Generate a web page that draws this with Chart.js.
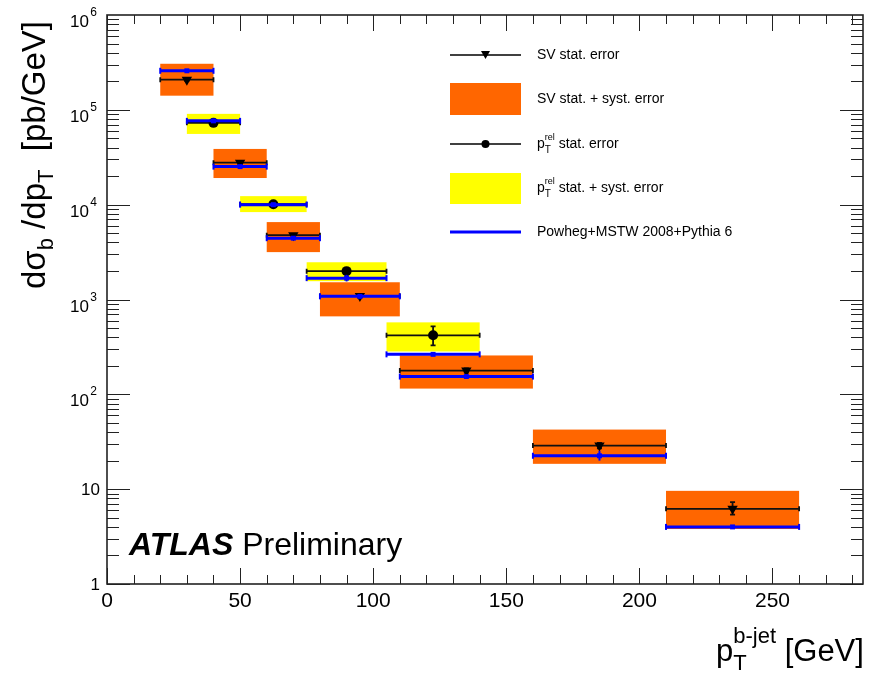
<!DOCTYPE html>
<html>
<head>
<meta charset="utf-8">
<script src="https://cdn.jsdelivr.net/npm/chart.js@4.4.1/dist/chart.umd.min.js"></script>
<style>
  html, body { margin: 0; padding: 0; background: #fff; }
  #wrap { width: 869px; height: 678px; position: relative; }
</style>
</head>
<body>
<div id="wrap"><canvas id="xsec"></canvas></div>
<script>
// SV measurement: bins, central values, stat error (black) and stat+syst band (orange)
const svBinLow = [20, 40, 60, 80, 110, 160, 210];
const svBinHigh = [40, 60, 80, 110, 160, 210, 260];
const svCenter = [30, 50, 70, 95, 135, 185, 235];
const svValue = [2.08e5, 2.77e4, 4.77e3, 1.09e3, 178, 28.8, 6.2];
const svStatLow = [2.02e5, 2.68e4, 4.62e3, 1.05e3, 169, 27.0, 5.4];
const svStatHigh = [2.14e5, 2.86e4, 4.93e3, 1.13e3, 188, 30.8, 7.3];
const svSystLow = [1.41e5, 1.91e4, 3.16e3, 664, 115, 18.5, 3.8];
const svSystHigh = [3.06e5, 3.87e4, 6.55e3, 1.52e3, 257, 42.5, 9.6];

// pT-rel measurement (yellow band)
const prelBinLow = [30, 50, 75, 105];
const prelBinHigh = [50, 75, 105, 140];
const prelCenter = [40, 62.5, 90, 122.5];
const prelValue = [7.29e4, 1.01e4, 1.99e3, 419];
const prelStatLow = [7.1e4, 9.8e3, 1.9e3, 328];
const prelStatHigh = [7.5e4, 1.04e4, 2.08e3, 521];
const prelSystLow = [5.57e4, 8.35e3, 1.56e3, 283];
const prelSystHigh = [9.07e4, 1.23e4, 2.47e3, 574];

// Powheg+MSTW 2008+Pythia 6 prediction, in both binnings
const powhegBinLow = [20, 30, 40, 50, 60, 75, 80, 105, 110, 160, 210];
const powhegBinHigh = [40, 50, 60, 75, 80, 105, 110, 140, 160, 210, 260];
const powhegCenter = [30, 40, 50, 62.5, 70, 90, 95, 122.5, 135, 185, 235];
const powhegValue = [2.58e5, 7.65e4, 2.52e4, 1.0e4, 4.43e3, 1.68e3, 1.08e3, 264, 154, 22.5, 4.0];
const powhegLow = [2.5e5, 7.4e4, 2.42e4, 9.6e3, 4.25e3, 1.55e3, 1.03e3, 256, 147, 20.0, 3.92];
const powhegHigh = [2.66e5, 7.9e4, 2.62e4, 1.04e4, 4.6e3, 1.82e3, 1.13e3, 272, 161, 25.4, 4.08];

// axis ticks
const xTickValues = [0, 50, 100, 150, 200, 250];
const xTickLabels = ['0', '50', '100', '150', '200', '250'];
const yTickValues = [1, 10, 100, 1e3, 1e4, 1e5, 1e6];
const yTickBase = ['1', '10', '10', '10', '10', '10', '10'];
const yTickExp = ['', '', '2', '3', '4', '5', '6'];

const ORANGE = '#ff6600';
const YELLOW = '#ffff00';
const BLUE = '#0000ff';
const FONT = '"Liberation Sans", Arial, sans-serif';

const powhegLine = [];
powhegBinLow.forEach((lo, i) => {
    powhegLine.push({ x: lo, y: powhegValue[i] });
    powhegLine.push({ x: powhegBinHigh[i], y: powhegValue[i] });
    powhegLine.push({ x: powhegBinHigh[i], y: null });
});

function drawTextRuns(ctx, x, y, runs) {
    // runs: [{t, size, dy}] drawn left to right; {stack:[run, run]} shares one x slot
    let cx = x;
    runs.forEach((run) => {
        const group = run.stack || [run];
        let w = 0;
        group.forEach((r) => {
            ctx.font = (r.weight || '') + ' ' + r.size + 'px ' + FONT;
            ctx.fillText(r.t, cx, y + (r.dy || 0));
            w = Math.max(w, ctx.measureText(r.t).width);
        });
        cx += w;
    });
    return cx;
}

function hBar(ctx, l, r, yy, cap) {
    ctx.beginPath();
    ctx.moveTo(l, yy); ctx.lineTo(r, yy);
    ctx.moveTo(l, yy - cap); ctx.lineTo(l, yy + cap);
    ctx.moveTo(r, yy - cap); ctx.lineTo(r, yy + cap);
    ctx.stroke();
}

function vBar(ctx, xx, t, b, cap) {
    ctx.beginPath();
    ctx.moveTo(xx, t); ctx.lineTo(xx, b);
    ctx.moveTo(xx - cap, t); ctx.lineTo(xx + cap, t);
    ctx.moveTo(xx - cap, b); ctx.lineTo(xx + cap, b);
    ctx.stroke();
}

const rootStyle = {
    id: 'rootStyle',
    beforeDatasetsDraw(chart) {
        const { ctx, scales: { x, y } } = chart;
        ctx.save();
        prelBinLow.forEach((lo, i) => {
            const l = x.getPixelForValue(lo), r = x.getPixelForValue(prelBinHigh[i]);
            const t = y.getPixelForValue(prelSystHigh[i]), b = y.getPixelForValue(prelSystLow[i]);
            ctx.fillStyle = YELLOW;
            ctx.fillRect(l, t, r - l, b - t);
        });
        svBinLow.forEach((lo, i) => {
            const l = x.getPixelForValue(lo), r = x.getPixelForValue(svBinHigh[i]);
            const t = y.getPixelForValue(svSystHigh[i]), b = y.getPixelForValue(svSystLow[i]);
            ctx.fillStyle = ORANGE;
            ctx.fillRect(l, t, r - l, b - t);
        });
        // black stat error bars
        ctx.strokeStyle = '#111';
        ctx.lineWidth = 1.8;
        svBinLow.forEach((lo, i) => {
            const yy = y.getPixelForValue(svValue[i]);
            hBar(ctx, x.getPixelForValue(lo), x.getPixelForValue(svBinHigh[i]), yy, 2.5);
            vBar(ctx, x.getPixelForValue(svCenter[i]), y.getPixelForValue(svStatHigh[i]), y.getPixelForValue(svStatLow[i]), 2.5);
        });
        prelBinLow.forEach((lo, i) => {
            const yy = y.getPixelForValue(prelValue[i]);
            hBar(ctx, x.getPixelForValue(lo), x.getPixelForValue(prelBinHigh[i]), yy, 2.5);
            vBar(ctx, x.getPixelForValue(prelCenter[i]), y.getPixelForValue(prelStatHigh[i]), y.getPixelForValue(prelStatLow[i]), 2.5);
        });
        ctx.restore();
    },
    afterDatasetsDraw(chart) {
        const { ctx, chartArea: a, scales: { x, y } } = chart;
        ctx.save();
        // powheg end caps and MC error bars
        ctx.strokeStyle = BLUE;
        ctx.lineWidth = 2;
        powhegBinLow.forEach((lo, i) => {
            const yy = y.getPixelForValue(powhegValue[i]);
            [lo, powhegBinHigh[i]].forEach((xv) => {
                const px = x.getPixelForValue(xv);
                ctx.beginPath(); ctx.moveTo(px, yy - 3); ctx.lineTo(px, yy + 3); ctx.stroke();
            });
            vBar(ctx, x.getPixelForValue(powhegCenter[i]), y.getPixelForValue(powhegHigh[i]), y.getPixelForValue(powhegLow[i]), 0);
        });

        // frame with ROOT style inward ticks on all four sides
        ctx.strokeStyle = '#222';
        ctx.lineWidth = 1;
        ctx.beginPath();
        for (let v = 0; v <= x.max; v += 10) {
            const px = Math.round(x.getPixelForValue(v)) + 0.5;
            const len = v % 50 === 0 ? 16 : 9;
            ctx.moveTo(px, a.bottom); ctx.lineTo(px, a.bottom - len);
            ctx.moveTo(px, a.top); ctx.lineTo(px, a.top + len);
        }
        for (let d = 1; d < 1e6; d *= 10) {
            for (let m = 1; m <= 9; m++) {
                const py = Math.round(y.getPixelForValue(d * m)) + 0.5;
                const len = m === 1 ? 23 : 12;
                ctx.moveTo(a.left, py); ctx.lineTo(a.left + len, py);
                ctx.moveTo(a.right, py); ctx.lineTo(a.right - len, py);
            }
        }
        ctx.stroke();
        ctx.lineWidth = 1.6;
        ctx.strokeRect(a.left, a.top, a.right - a.left, a.bottom - a.top);

        // tick labels
        ctx.fillStyle = '#000';
        ctx.textBaseline = 'alphabetic';
        ctx.textAlign = 'center';
        ctx.font = '21px ' + FONT;
        xTickValues.forEach((v, i) => {
            ctx.fillText(xTickLabels[i], x.getPixelForValue(v), a.bottom + 23);
        });
        ctx.textAlign = 'right';
        yTickValues.forEach((v, i) => {
            const py = y.getPixelForValue(v);
            if (yTickExp[i]) {
                ctx.font = '17px ' + FONT;
                ctx.fillText(yTickBase[i], 89, py + 12);
                ctx.font = '12px ' + FONT;
                ctx.fillText(yTickExp[i], 97, py + 1);
            } else {
                ctx.font = '17px ' + FONT;
                ctx.fillText(yTickBase[i], 100, py + 6);
            }
        });

        // axis titles
        ctx.textAlign = 'left';
        drawTextRuns(ctx, 716, 661, [
            { t: 'p', size: 31 },
            { stack: [{ t: 'b-jet', size: 22, dy: -18 }, { t: 'T', size: 22, dy: 9 }] },
            { t: ' [GeV]', size: 31 }
        ]);
        ctx.save();
        ctx.translate(45, 289);
        ctx.rotate(-Math.PI / 2);
        drawTextRuns(ctx, 0, 0, [
            { t: 'd\u03c3', size: 33 },
            { t: 'b', size: 22, dy: 8 },
            { t: ' /dp', size: 33 },
            { t: 'T', size: 22, dy: 8 },
            { t: '  [pb/GeV]', size: 33 }
        ]);
        ctx.restore();

        // ATLAS label
        drawTextRuns(ctx, 129, 555, [
            { t: 'ATLAS', size: 32, weight: 'italic bold' },
            { t: ' Preliminary', size: 32 }
        ]);

        // legend
        const lx0 = 450, lx1 = 521, lxm = 485.5, tx = 537;
        ctx.strokeStyle = '#000';
        ctx.lineWidth = 1.4;
        [55, 144].forEach((ly) => {
            ctx.beginPath(); ctx.moveTo(lx0, ly); ctx.lineTo(lx1, ly); ctx.stroke();
        });
        ctx.fillStyle = '#000';
        ctx.beginPath();
        ctx.moveTo(lxm - 4.5, 51); ctx.lineTo(lxm + 4.5, 51); ctx.lineTo(lxm, 59); ctx.closePath(); ctx.fill();
        ctx.beginPath(); ctx.arc(lxm, 144, 4, 0, Math.PI * 2); ctx.fill();
        ctx.fillStyle = ORANGE; ctx.fillRect(lx0, 83, lx1 - lx0, 32);
        ctx.fillStyle = YELLOW; ctx.fillRect(lx0, 173, lx1 - lx0, 31);
        ctx.strokeStyle = BLUE; ctx.lineWidth = 3;
        ctx.beginPath(); ctx.moveTo(lx0, 232); ctx.lineTo(lx1, 232); ctx.stroke();

        ctx.fillStyle = '#000';
        ctx.textBaseline = 'middle';
        drawTextRuns(ctx, tx, 55, [{ t: 'SV stat. error', size: 14 }]);
        drawTextRuns(ctx, tx, 99, [{ t: 'SV stat. + syst. error', size: 14 }]);
        drawTextRuns(ctx, tx, 144, [
            { t: 'p', size: 14 },
            { stack: [{ t: 'rel', size: 9, dy: -6 }, { t: 'T', size: 10, dy: 6 }] },
            { t: ' stat. error', size: 14 }
        ]);
        drawTextRuns(ctx, tx, 188, [
            { t: 'p', size: 14 },
            { stack: [{ t: 'rel', size: 9, dy: -6 }, { t: 'T', size: 10, dy: 6 }] },
            { t: ' stat. + syst. error', size: 14 }
        ]);
        drawTextRuns(ctx, tx, 232, [{ t: 'Powheg+MSTW 2008+Pythia 6', size: 14 }]);
        ctx.restore();
    }
};

new Chart(document.getElementById('xsec'), {
    type: 'scatter',
    data: {
        datasets: [
            {
                label: 'Powheg centre',
                data: powhegCenter.map((xv, i) => ({ x: xv, y: powhegValue[i] })),
                pointStyle: 'rect',
                pointRadius: 3.5,
                backgroundColor: BLUE,
                borderWidth: 0
            },
            {
                label: 'Powheg+MSTW 2008+Pythia 6',
                type: 'line',
                data: powhegLine,
                borderColor: BLUE,
                borderWidth: 3,
                pointRadius: 0,
                spanGaps: false,
                fill: false
            },
            {
                label: 'pTrel stat. error',
                data: prelCenter.map((xv, i) => ({ x: xv, y: prelValue[i] })),
                pointStyle: 'circle',
                pointRadius: 5,
                backgroundColor: '#000',
                borderWidth: 0
            },
            {
                label: 'SV stat. error',
                data: svCenter.map((xv, i) => ({ x: xv, y: svValue[i] })),
                pointStyle: 'triangle',
                rotation: 180,
                pointRadius: 6,
                backgroundColor: '#000',
                borderWidth: 0
            }
        ]
    },
    options: {
        responsive: true,
        maintainAspectRatio: false,
        animation: false,
        layout: { padding: { left: 107, right: 3, top: 15, bottom: 94 } },
        plugins: { legend: { display: false }, tooltip: { enabled: false } },
        scales: {
            x: { type: 'linear', min: 0, max: 284, display: false },
            y: { type: 'logarithmic', min: 1, max: 1e6, display: false }
        }
    },
    plugins: [rootStyle]
});
</script>
</body>
</html>
